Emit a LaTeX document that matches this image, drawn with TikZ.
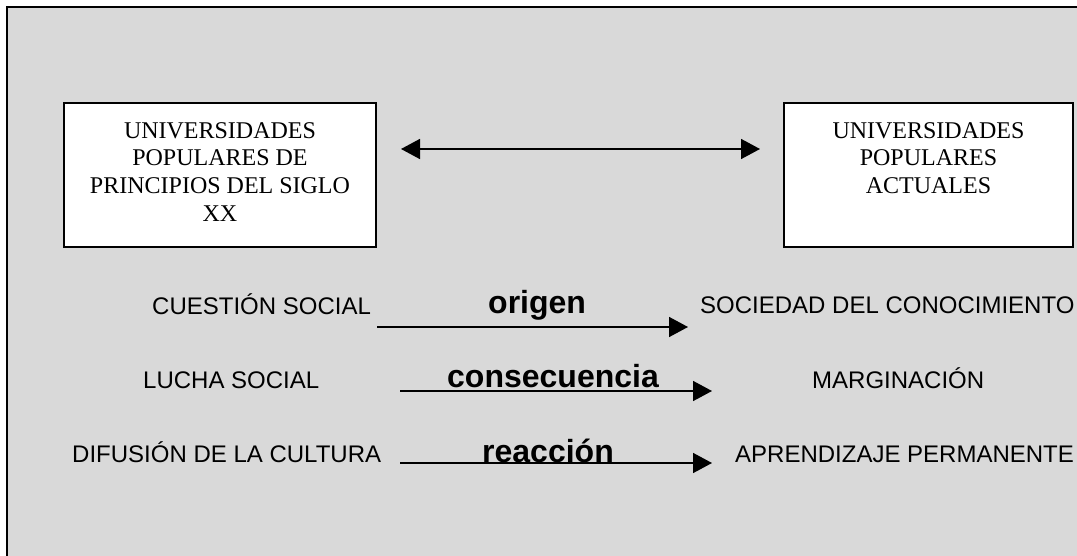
\documentclass[tikz,border=0pt]{standalone}
\usepackage{fontspec}
\setmainfont{Liberation Serif}
\newfontfamily\arialfont{Liberation Sans}
\usetikzlibrary{arrows.meta}
\definecolor{bggray}{HTML}{D9D9D9}
\tikzset{
  unibox/.style={draw=black, line width=1.8pt, fill=white, inner sep=0pt},
  serifText/.style={inner sep=0pt, align=center, font=\fontsize{24}{27.8}\selectfont},
  plainlabel/.style={inner sep=0pt, anchor=base west, font=\arialfont\fontsize{24}{28}\selectfont},
  boldlabel/.style={inner sep=0pt, anchor=base west, font=\arialfont\bfseries\fontsize{32}{36}\selectfont},
  relarrow/.style={line width=1.6pt, -{Triangle[length=19pt,width=20pt]}},
  dblarrow/.style={line width=1.6pt, {Triangle[length=19pt,width=20pt]}-{Triangle[length=19pt,width=20pt]}}
}
\begin{document}
\begin{tikzpicture}[x=1pt,y=-1pt]
\useasboundingbox (0,0) rectangle (1077,556);
\fill[white] (0,0) rectangle (1077,556);
\fill[bggray] (7,7) rectangle (1077,556);
\draw[line width=2.2pt] (7,556) -- (7,7) -- (1077,7);

% boxes
\node[unibox, minimum width=312pt, minimum height=144pt] (left) at (220,175) {};
\node[unibox, minimum width=289pt, minimum height=144pt] (right) at (928.5,175) {};
\node[serifText, anchor=north] (lefttext) at (220,122) {UNIVERSIDADES\\POPULARES DE\\PRINCIPIOS DEL SIGLO\\XX};
\node[serifText, anchor=north] (righttext) at (928.5,122) {UNIVERSIDADES\\POPULARES\\ACTUALES};

\coordinate (da) at (401,149);
\coordinate (db) at (760,149);
\draw[dblarrow] (da) -- (db);

% row 1
\node[plainlabel] (cuestion) at (152,314) {CUESTIÓN SOCIAL};
\node[boldlabel] (origen) at (488,313) {origen};
\node[plainlabel] (sociedad) at (700,313) {SOCIEDAD DEL CONOCIMIENTO};
\coordinate (a1s) at (377,327);
\coordinate (a1e) at (688,327);
\draw[relarrow] (a1s) -- (a1e);

% row 2
\node[plainlabel] (lucha) at (143,388) {LUCHA SOCIAL};
\node[boldlabel] (consec) at (447,387) {consecuencia};
\node[plainlabel] (margin) at (812,388) {MARGINACIÓN};
\coordinate (a2s) at (400,391);
\coordinate (a2e) at (712,391);
\draw[relarrow] (a2s) -- (a2e);

% row 3
\node[plainlabel] (difusion) at (72,462) {DIFUSIÓN DE LA CULTURA};
\node[boldlabel] (reaccion) at (482,462) {reacción};
\node[plainlabel] (aprend) at (735,462) {APRENDIZAJE PERMANENTE};
\coordinate (a3s) at (400,463);
\coordinate (a3e) at (712,463);
\draw[relarrow] (a3s) -- (a3e);
\end{tikzpicture}
\end{document}
